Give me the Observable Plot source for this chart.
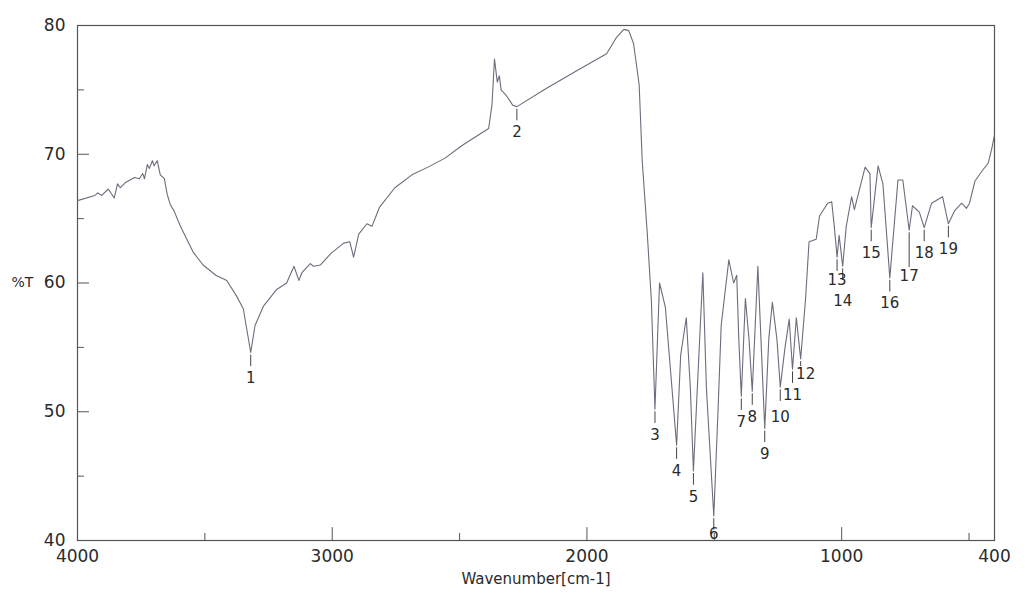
<!DOCTYPE html>
<html><head><meta charset="utf-8">
<script src="https://cdn.jsdelivr.net/npm/d3@7"></script>
<script src="https://cdn.jsdelivr.net/npm/@observablehq/plot@0.6"></script>
<style>html,body{margin:0;padding:0;background:#fff;} #chart{width:1026px;height:594px;}</style>
</head><body><div id="chart"></div>
<script>
// Spectrum (wavenumber cm-1, %T)
const wavenumber = [4000,3932,3920,3905,3879,3856,3843,3832,3812,3776,3757,3744,3737,3726,3718,3706,3699,3687,3675,3659,3648,3636,3621,3598,3571,3546,3507,3457,3414,3376,3349,3338,3320,3303,3270,3218,3179,3150,3131,3119,3086,3074,3046,3005,2955,2931,2916,2896,2864,2844,2814,2754,2687,2624,2557,2489,2426,2386,2373,2363,2352,2344,2337,2318,2291,2275,2160,2030,1923,1883,1855,1836,1817,1795,1783,1763,1747,1733,1715,1692,1648,1632,1610,1594,1582,1561,1545,1531,1502,1485,1473,1443,1424,1412,1404,1394,1378,1364,1351,1329,1317,1302,1286,1272,1254,1241,1223,1206,1193,1178,1161,1142,1128,1100,1087,1055,1039,1029,1018,1010,996,982,961,950,908,889,884,857,838,811,779,760,735,722,695,676,647,604,581,557,529,510,498,477,449,425,410,400];
const transmittance = [66.4,66.8,67.0,66.8,67.3,66.6,67.7,67.4,67.8,68.2,68.1,68.5,68.1,69.2,68.9,69.5,69.1,69.5,68.4,68.1,66.9,66.1,65.6,64.5,63.4,62.4,61.4,60.6,60.2,59.0,58.0,56.7,54.6,56.7,58.2,59.5,60.0,61.3,60.2,60.8,61.5,61.3,61.4,62.3,63.1,63.2,62.0,63.8,64.6,64.4,65.9,67.4,68.4,69.0,69.7,70.7,71.5,72.0,73.8,77.4,75.6,76.1,75.0,74.6,73.8,73.7,75.1,76.6,77.8,79.1,79.7,79.6,78.6,75.4,69.5,63.8,58.6,50.2,60.0,58.1,47.4,54.4,57.3,51.8,45.4,54.2,60.8,51.8,41.9,50.3,56.7,61.8,60.0,60.6,55.7,51.2,58.8,55.7,51.6,61.3,55.7,48.7,55.7,58.5,55.6,51.9,54.9,57.2,53.3,57.3,54.1,58.7,63.2,63.4,65.2,66.2,66.3,64.4,62.0,63.7,61.3,64.4,66.7,65.7,69.0,68.5,64.3,69.1,67.7,60.4,68.0,68.0,64.1,66.0,65.5,64.3,66.2,66.7,64.6,65.6,66.2,65.8,66.2,67.9,68.7,69.3,70.5,71.5];

// Numbered peaks
const peakNumber = [1,2,3,4,5,6,7,8,9,10,11,12,13,14,15,16,17,18,19];
const peakWavenumber = [3320,2275,1733,1648,1582,1502,1394,1351,1302,1241,1193,1161,1018,996,884,811,735,676,581];
const peakTransmittance = [54.6,73.7,50.2,47.4,45.4,41.9,51.2,51.6,48.7,51.9,53.3,54.1,62.0,61.3,64.3,60.4,64.1,64.3,64.6];

// Axes
const xTickLabels = [4000,3000,2000,1000,400];
const xMajorTicks = [3000,2000,1000];
const xMinorTicks = [3500,2500,1500,500];
const yTickLabels = [40,50,60,70,80];
const yMajorTicks = [50,60,70];
const yMinorTicks = [45,55,65,75];

const spectrum = wavenumber.map((w, i) => ({w, T: transmittance[i]}));
const peaks = peakNumber.map((n, i) => ({n, w: peakWavenumber[i], T: peakTransmittance[i]}));
// how far (in %T) each number sits below its band
const dropFor = {6: 1.4, 10: 2.35, 11: 2.0, 12: 1.15, 13: 1.75, 14: 2.7, 17: 3.6};
const drop = d => dropFor[d.n] ?? 2.0;
const tickEnd = d => (d.n === 17 ? 2.9 : d.n === 12 ? 0.6 : 1.1);

const ink = "#2a2a2a";
const chart = Plot.plot({
  width: 1026,
  height: 594,
  marginLeft: 77,
  marginRight: 32,
  marginTop: 25,
  marginBottom: 54,
  style: {fontFamily: "'DejaVu Sans', sans-serif", fontSize: "16px", background: "#fff", color: ink},
  x: {domain: [4000, 400]},
  y: {domain: [40, 80]},
  marks: [
    Plot.frame({stroke: "#555", strokeWidth: 1.2}),
    Plot.ruleX(xMajorTicks, {x: d => d, y1: 40, y2: 41, stroke: "#555"}),
    Plot.ruleX(xMinorTicks, {x: d => d, y1: 40, y2: 40.55, stroke: "#555"}),
    Plot.ruleY(yMajorTicks, {y: d => d, x1: 4000, x2: 3953, stroke: "#555"}),
    Plot.ruleY(yMinorTicks, {y: d => d, x1: 4000, x2: 3973, stroke: "#555"}),
    Plot.axisX(xTickLabels, {tickSize: 0, tickPadding: 9, fontSize: 17, tickFormat: d => `${d}`, label: null, fill: ink}),
    Plot.axisY(yTickLabels, {tickSize: 0, tickPadding: 12, fontSize: 17, tickFormat: d => `${d}`, label: null, fill: ink}),
    Plot.line(spectrum, {x: "w", y: "T", stroke: "#6e6b7c", strokeWidth: 1.1}),
    Plot.ruleX(peaks, {x: "w", y1: d => d.T - 0.2, y2: d => d.T - tickEnd(d), stroke: "#444", strokeWidth: 1}),
    Plot.text(peaks.filter(d => d.n !== 12), {x: "w", y: d => d.T - drop(d), text: d => `${d.n}`, fontSize: 15, fill: ink}),
    Plot.text(peaks.filter(d => d.n === 12), {x: "w", y: d => d.T - drop(d), dx: 5, text: d => `${d.n}`, fontSize: 15, fill: ink}),
    Plot.text(["%T"], {frameAnchor: "left", dx: -66, fontSize: 14, fill: ink}),
    Plot.text(["Wavenumber[cm-1]"], {frameAnchor: "bottom", lineAnchor: "middle", dy: 39, fontSize: 15, fill: ink})
  ]
});
document.getElementById("chart").append(chart);
</script>
</body></html>
